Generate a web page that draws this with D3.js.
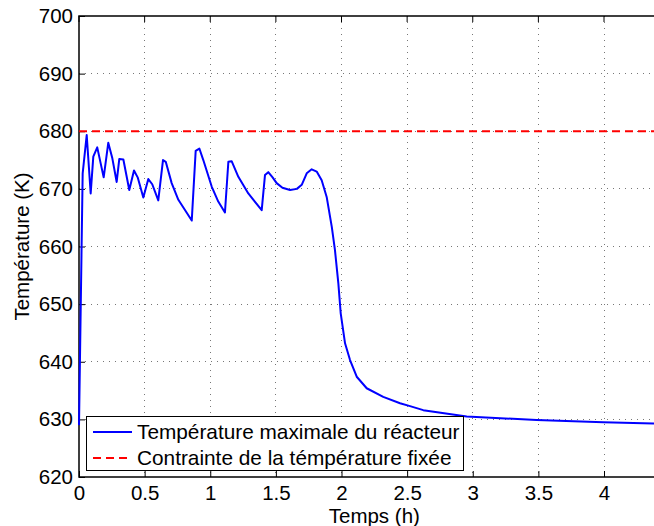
<!DOCTYPE html>
<html><head><meta charset="utf-8">
<script src="https://cdn.jsdelivr.net/npm/d3@7"></script>
<style>body{margin:0;background:#fff}svg{display:block}text{font-family:"Liberation Sans",Arial,sans-serif}</style>
</head><body><svg id="c" width="654" height="526"></svg>
<script>
const timeH = [0,0.028,0.0587,0.089,0.109,0.139,0.188,0.223,0.254,0.287,0.307,0.338,0.383,0.419,0.447,0.490,0.528,0.558,0.604,0.640,0.661,0.706,0.757,0.859,0.889,0.917,0.947,1.011,1.061,1.112,1.138,1.163,1.214,1.290,1.392,1.417,1.442,1.475,1.506,1.55,1.608,1.66,1.697,1.735,1.773,1.811,1.849,1.887,1.926,1.950,1.976,1.994,2.027,2.065,2.116,2.192,2.318,2.446,2.522,2.623,2.954,3.487,3.995,4.376,4.5];
const tempMax = [629,672.7,679.35,669.2,675.6,677.2,672.0,678.0,675.3,671.2,675.2,675.1,669.8,673.2,672.0,668.5,671.7,670.8,668.0,675.0,674.7,671.0,668.1,664.5,676.6,677.0,675.0,670.4,667.8,665.9,674.7,674.8,672.1,669.2,666.3,672.4,672.9,672.0,671.0,670.2,669.8,670.0,670.7,672.7,673.4,673.0,671.5,668.6,663.4,659.4,653.6,648.4,643.2,640.3,637.4,635.4,633.9,632.8,632.3,631.6,630.5,629.9,629.5,629.3,629.25];
const limitTime = [0,4.5];
const limitTemp = [680,680];
const xTicks = [0,0.5,1,1.5,2,2.5,3,3.5,4,4.5];
const xTickLabels = ["0","0.5","1","1.5","2","2.5","3","3.5","4",""];
const yTicks = [620,630,640,650,660,670,680,690,700];
const seriesNames = ["Température maximale du réacteur","Contrainte de la témpérature fixée"];
const xTitle = "Temps (h)", yTitle = "Température (K)";

const svg = d3.select("#c");
const L=79, T=16, B=477, R=79+4.5*131.25;
const x = d3.scaleLinear().domain([0,4.5]).range([L,R]);
const y = d3.scaleLinear().domain([620,700]).range([B,T]);
const fs = 20.5;

// grid
const g = svg.append("g");
g.selectAll(".gx").data(xTicks.slice(1)).join("line")
  .attr("x1",d=>x(d)).attr("x2",d=>x(d)).attr("y1",T).attr("y2",B)
  .attr("stroke","#777").attr("stroke-width",1).attr("stroke-dasharray","1,5").attr("shape-rendering","crispEdges");
g.selectAll(".gy").data(yTicks.slice(1,-1)).join("line")
  .attr("x1",L).attr("x2",R).attr("y1",d=>y(d)).attr("y2",d=>y(d))
  .attr("stroke","#777").attr("stroke-width",1).attr("stroke-dasharray","1,5").attr("shape-rendering","crispEdges");

// axes
const xAxis = d3.axisBottom(x).tickValues(xTicks).tickSize(-6).tickPadding(8.5).tickFormat((d,i)=>xTickLabels[i]);
const ax = svg.append("g").attr("transform",`translate(0,${B})`).call(xAxis);
const yAxis = d3.axisLeft(y).tickValues(yTicks).tickSize(-6).tickPadding(6).tickFormat(d3.format("d"));
const ay = svg.append("g").attr("transform",`translate(${L},0)`).call(yAxis);
[ax,ay].forEach(a=>{a.select(".domain").remove();a.selectAll("text").attr("font-size",fs).attr("fill","#000").style("font-family","Liberation Sans, Arial, sans-serif");a.selectAll("line").attr("stroke","#000");});
ax.selectAll("text").attr("dy","0.71em");
// top ticks
svg.append("g").selectAll("line").data(xTicks).join("line")
  .attr("x1",d=>x(d)).attr("x2",d=>x(d)).attr("y1",T).attr("y2",T+6).attr("stroke","#000");
// box
svg.append("rect").attr("x",L).attr("y",T).attr("width",R-L).attr("height",B-T)
  .attr("fill","none").attr("stroke","#000").attr("stroke-width",1.5);

// lines
const line = d3.line().x(d=>x(d[0])).y(d=>y(d[1]));
svg.append("path").datum(d3.zip(timeH,tempMax)).attr("d",line)
  .attr("fill","none").attr("stroke","#0000ff").attr("stroke-width",2).attr("stroke-linejoin","round");
svg.append("path").datum(d3.zip(limitTime,limitTemp)).attr("d",line)
  .attr("fill","none").attr("stroke","#ff0000").attr("stroke-width",2).attr("stroke-dasharray","8,5");

// titles
svg.append("text").attr("x",(L+R)/2).attr("y",523).attr("text-anchor","middle").attr("font-size",fs).text(xTitle);
svg.append("text").attr("transform",`translate(29,${(T+B)/2}) rotate(-90)`).attr("text-anchor","middle").attr("font-size",fs).text(yTitle);

// legend
const lg = svg.append("g");
lg.append("rect").attr("x",86.5).attr("y",416.5).attr("width",377).attr("height",54).attr("fill","#fff").attr("stroke","#000").attr("stroke-width",1);
const styles=[{c:"#0000ff",d:null},{c:"#ff0000",d:"8,5"}];
seriesNames.forEach((n,i)=>{
  const yy = 432 + i*26;
  lg.append("line").attr("x1",93).attr("x2",132).attr("y1",yy).attr("y2",yy).attr("stroke",styles[i].c).attr("stroke-width",2).attr("stroke-dasharray",styles[i].d);
  lg.append("text").attr("x",137).attr("y",yy+7).attr("font-size",20.8).text(n);
});
</script></body></html>
